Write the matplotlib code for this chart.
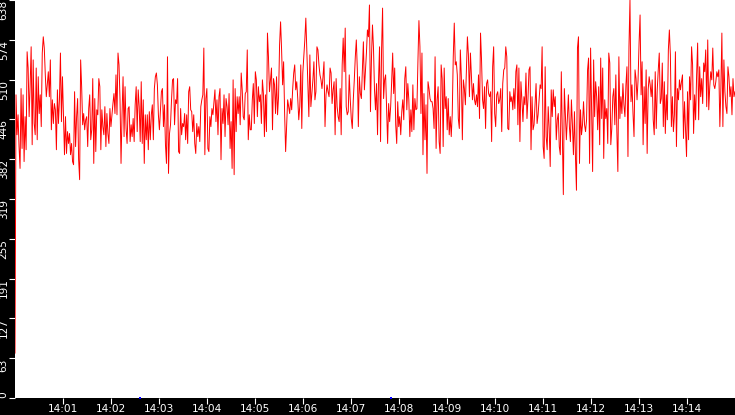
import numpy as np
import pandas as pd
import matplotlib.pyplot as plt

# red series, split by minute blocks
seg1 = [72, 486, 422, 454, 403, 368, 496, 400, 486, 379, 451, 398, 555, 529, 451, 502, 563, 406,
        542, 440, 422, 529, 414, 515, 456, 486, 435, 553, 579, 561, 518, 483, 504, 523, 483, 542,
        430, 478, 440, 472, 462, 398, 494, 440, 478, 553, 443, 515, 451, 390, 451, 392, 427, 408,
        424, 390, 408, 379, 374, 491, 403, 451, 480, 382, 350, 542, 499, 438, 456, 430, 446, 451,
        403, 464, 486, 414, 430, 512, 376, 480, 395, 462, 454, 512, 499, 398, 462, 435, 422, 467,
        403, 456, 424, 408, 464, 435, 454, 472, 488, 456, 518, 454, 553, 534, 478, 376, 454, 515,
        419, 499, 432, 408, 464]
seg2 = [467, 411, 438, 419, 448, 411, 470, 499, 427, 494, 467, 411, 507, 408, 478, 376, 454, 414,
        454, 398, 459, 414, 454, 470, 414, 496, 515, 521, 502, 454, 430, 462, 491, 496, 435, 470,
        406, 376, 547, 360, 424, 438, 478, 510, 512, 438, 478, 472, 512, 395, 392, 464, 422, 440,
        435, 456, 414, 454, 408, 491, 499, 462, 459, 427, 454, 408, 392, 440, 419, 435, 411, 467,
        478, 486, 561, 390, 480, 496, 400, 395, 451, 435, 464, 454, 475, 494, 443, 478, 422, 483,
        496, 382, 464, 440, 486, 419, 480, 467, 438, 488, 400, 443, 368, 510, 358, 496, 427, 483,
        456, 483, 438, 521, 494, 451, 446, 488, 491, 558, 414, 454, 430]
seg3 = [430, 478, 504, 440, 523, 510, 451, 499, 475, 486, 440, 510, 488, 419, 486, 427, 585, 547,
        491, 510, 529, 430, 512, 502, 456, 515, 454, 483, 566, 603, 558, 502, 539, 456, 395, 438,
        478, 467, 456, 480, 462, 496, 521, 534, 494, 507, 480, 446, 467, 534, 432, 521, 547, 574,
        609, 558, 502, 451, 550, 467, 488, 510, 539, 478, 491, 563, 558, 534, 518, 510, 496, 515,
        539, 435, 486, 502, 491, 483, 529, 521, 472, 494, 507, 422, 512, 467, 451, 443, 496, 422,
        534, 577, 523, 593, 467, 454, 459, 518, 478, 448, 432, 478, 510, 547, 574, 526, 435, 515,
        488, 480, 526, 571, 494, 523, 553, 590, 579, 630, 459, 545]
seg4 = [598, 561, 494, 462, 504, 422, 510, 563, 411, 558, 625, 480, 510, 518, 462, 408, 472, 443,
        467, 507, 553, 488, 529, 438, 408, 475, 435, 451, 422, 459, 478, 446, 512, 531, 462, 504,
        478, 419, 462, 427, 502, 430, 480, 462, 464, 539, 605, 563, 456, 553, 390, 488, 414, 470,
        360, 507, 496, 480, 475, 475, 464, 432, 547, 400, 478, 499, 411, 392, 534, 512, 403, 529,
        464, 483, 430, 480, 422, 451, 419, 456, 547, 601, 534, 539, 518, 448, 432, 558, 515, 414,
        510, 496, 470, 523, 579, 550, 483, 553, 515, 478, 504, 478, 470, 486, 467, 518, 448, 585,
        542, 478, 464, 499, 432, 504, 510, 488, 483, 491, 411, 531]
seg5 = [563, 456, 435, 486, 491, 472, 478, 496, 427, 504, 526, 529, 563, 547, 432, 430, 491, 475,
        483, 462, 496, 464, 523, 534, 438, 529, 411, 507, 478, 443, 483, 470, 521, 448, 480, 526,
        531, 398, 483, 430, 438, 472, 504, 440, 454, 478, 502, 496, 563, 403, 384, 531, 419, 398,
        467, 432, 371, 494, 451, 494, 467, 483, 414, 446, 456, 403, 390, 523, 424, 326, 496, 456,
        414, 448, 486, 435, 411, 478, 438, 390, 459, 387, 333, 561, 579, 376, 462, 422, 438, 475,
        438, 427, 446, 526, 545, 376, 561, 464, 363, 542, 451, 507, 483, 430, 499, 406, 545, 448,
        529, 384, 478, 448, 464, 408, 553, 537, 406, 432, 483, 496]
seg6 = [438, 518, 427, 363, 547, 448, 483, 456, 504, 470, 451, 502, 531, 387, 563, 638, 475, 502,
        456, 419, 526, 512, 478, 510, 569, 614, 486, 539, 406, 499, 440, 526, 392, 494, 515, 502,
        483, 510, 446, 422, 523, 432, 494, 526, 553, 472, 480, 537, 435, 507, 424, 486, 446, 558,
        590, 550, 435, 483, 427, 454, 555, 403, 496, 478, 510, 494, 507, 518, 416, 475, 430, 387,
        491, 414, 515, 478, 563, 534, 424, 486, 446, 518, 569, 446, 531, 483, 512, 472, 537, 523,
        558, 467, 574, 462, 499, 523, 510, 561, 502, 496, 507, 523, 515, 526, 435, 496, 585, 435,
        542, 491, 467, 456, 531, 515, 483, 499, 454, 512, 483, 491]
red_values = seg1 + seg2 + seg3 + seg4 + seg5 + seg6

# blue series only shows as two dots at zero
blue_times = pd.to_datetime(['2024-01-01 14:02:36', '2024-01-01 14:07:50'])
blue_values = [0, 0]

tick_labels = ['14:%02d' % m for m in range(1, 15)]
y_max = 638

t0 = pd.Timestamp('2024-01-01 14:00:00')
t1 = pd.Timestamp('2024-01-01 14:15:00')
red_times = pd.date_range(t0, t1, periods=len(red_values))

fig = plt.figure(figsize=(7.35, 4.15), dpi=100, facecolor='black')
ax = fig.add_axes([15 / 735, 17 / 415, 720 / 735, 398 / 415])
ax.set_facecolor('white')

ax.plot(red_times, red_values, color='red', lw=0.7)
ax.plot(blue_times, blue_values, 's', color='blue', ms=2, mew=0, clip_on=False)

ax.set_xlim(t0, t1)
ax.set_ylim(0, y_max)

for s in ax.spines.values():
    s.set_visible(False)

xt = pd.date_range('2024-01-01 14:01', periods=14, freq='min')
ax.set_xticks(xt)
ax.set_xticklabels(tick_labels)
yt = np.linspace(0, y_max, 11)
ax.set_yticks(yt)
ax.set_yticklabels([str(int(v)) for v in yt], rotation=90, va='top')
ax.get_yticklabels()[0].set_va('bottom')

ax.tick_params(colors='white', labelsize=7.6, length=4, width=0.8)
ax.tick_params(axis='x', pad=0.5)
ax.tick_params(axis='y', pad=0.5)

fig.savefig('out.png', dpi=100, facecolor='black')
